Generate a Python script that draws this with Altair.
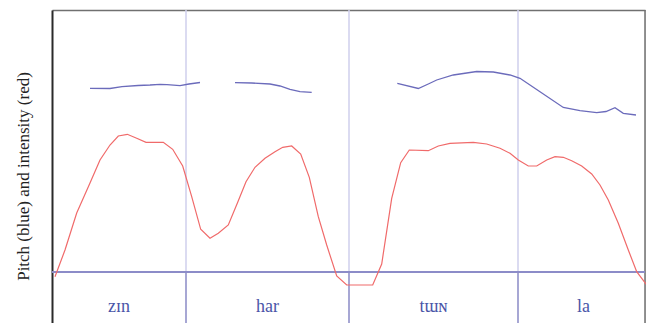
import altair as alt
import pandas as pd

# Intensity contour (red): time position, level
red_t = [3, 13, 24.7, 38, 48, 58, 66.3, 75.3, 84.7, 94, 111.3, 120.7, 130.7, 139.7, 148.7, 158,
         166.3, 176.3, 185.3, 194, 203, 213, 223, 230.7, 239.7, 248.7, 257.3, 266.3, 274.7, 284.7,
         294.7, 320.7, 329.7, 339.7, 348.7, 357.3, 376.3, 386.3, 398, 421.3, 434.7, 448, 458, 466.3,
         476.3, 484.7, 494.7, 503, 511.3, 519.7, 529.7, 539.7, 548, 556.3, 566.3, 576.3, 584.7, 594.7]
red_v = [-4.7, 22, 59, 89, 112, 127, 136, 137.7, 133.7, 129.7, 129.7, 122.7, 106, 75.3, 42.7, 33.7,
         38.7, 47, 68.7, 90.3, 104.7, 113.7, 120.3, 124.7, 126, 118, 94.7, 55.3, 27, -4,
         -13, -13, 8, 73.7, 109.3, 122, 121.3, 126, 128.7, 129.7, 128, 123.7, 118.7, 112,
         106, 106, 112, 115.3, 114.7, 111.3, 106, 98, 87, 72, 48.7, 22, 0.3, -13]

# Pitch contour (blue), three voiced stretches
blue1_t = [38, 58, 70, 86, 98, 108, 115, 128, 137, 148]
blue1_v = [183.7, 183.5, 185.3, 186.5, 187, 187.7, 187.3, 186.3, 188, 189.5]
blue2_t = [183, 199.7, 218, 228, 238, 248, 259.7]
blue2_v = [189.3, 189, 188, 186, 182.7, 180.3, 179.7]
blue3_t = [345.3, 366.3, 376.3, 384.7, 401.3, 424.7, 441.3, 458, 468, 488, 511.3, 528, 544.7, 554, 563, 571.3, 584]
blue3_v = [188.7, 183.5, 188, 192, 197, 200.5, 200, 197, 193.7, 180.3, 164.5, 161.3, 159.3, 160.5, 164.3, 158.7, 157]

# Syllables and their boundaries
syllables = ["zɪn", "har", "tɯɴ", "la"]
bounds = [0, 134, 297, 466, 597]
label_level = -40

T_DOMAIN = [0, 593]
V_DOMAIN = [-51, 262]

red_df = pd.DataFrame({"t": red_t, "v": red_v})
blue_df = pd.concat([
    pd.DataFrame({"t": blue1_t, "v": blue1_v, "seg": 1}),
    pd.DataFrame({"t": blue2_t, "v": blue2_v, "seg": 2}),
    pd.DataFrame({"t": blue3_t, "v": blue3_v, "seg": 3}),
])
inner = bounds[1:-1]
upper_df = pd.DataFrame({"t": inner, "v0": [0] * len(inner), "v1": [V_DOMAIN[1]] * len(inner)})
lower_df = pd.DataFrame({"t": inner, "v0": [V_DOMAIN[0]] * len(inner), "v1": [0] * len(inner)})
base_df = pd.DataFrame({"t": [T_DOMAIN[0]], "t2": [T_DOMAIN[1]], "v": [0]})
right_df = pd.DataFrame({"t": [T_DOMAIN[1]], "v0": [V_DOMAIN[0]], "v1": [V_DOMAIN[1]]})
lab_df = pd.DataFrame({
    "t": [(bounds[i] + bounds[i + 1]) / 2 for i in range(len(syllables))],
    "v": [label_level] * len(syllables),
    "s": syllables,
})

xs = alt.Scale(domain=T_DOMAIN, nice=False, zero=False)
ys = alt.Scale(domain=V_DOMAIN, nice=False, zero=False)
yaxis = alt.Axis(title="Pitch (blue) and intensity (red)", labels=False, ticks=False, grid=False,
                 domainColor="#2a2a2a", domainWidth=2, titleFont="Liberation Serif",
                 titleFontSize=17, titleFontWeight="normal", titleColor="#222222",
                 titlePadding=20, titleY=166)
xaxis = alt.Axis(orient="top", title=None, labels=False, ticks=False, grid=False,
                 domainColor="#707070", domainWidth=1.5)

upper = alt.Chart(upper_df).mark_rule(color="#cfcfec", strokeWidth=1.5).encode(
    x=alt.X("t:Q", scale=xs, axis=xaxis),
    y=alt.Y("v0:Q", scale=ys, axis=yaxis),
    y2="v1:Q",
)
lower = alt.Chart(lower_df).mark_rule(color="#8a8ac6", strokeWidth=1.5).encode(
    x=alt.X("t:Q", scale=xs), y=alt.Y("v0:Q", scale=ys), y2="v1:Q")
right = alt.Chart(right_df).mark_rule(color="#707070", strokeWidth=1.5).encode(
    x=alt.X("t:Q", scale=xs), y=alt.Y("v0:Q", scale=ys), y2="v1:Q")
base = alt.Chart(base_df).mark_rule(color="#8c8cc8", strokeWidth=2).encode(
    x=alt.X("t:Q", scale=xs), x2="t2:Q", y=alt.Y("v:Q", scale=ys))
red = alt.Chart(red_df).mark_line(color="#f06a6a", strokeWidth=1.2).encode(
    x=alt.X("t:Q", scale=xs), y=alt.Y("v:Q", scale=ys), order="t:Q")
blue = alt.Chart(blue_df).mark_line(color="#6b6bbb", strokeWidth=1.3).encode(
    x=alt.X("t:Q", scale=xs), y=alt.Y("v:Q", scale=ys), detail="seg:N", order="t:Q")
labels = alt.Chart(lab_df).mark_text(font="Liberation Serif", fontSize=18, color="#4a55a8",
                                     baseline="alphabetic", align="center").encode(
    x=alt.X("t:Q", scale=xs), y=alt.Y("v:Q", scale=ys), text="s:N")

chart = alt.layer(upper, lower, right, base, red, blue, labels).properties(
    width=593, height=313,
    autosize=alt.AutoSizeParams(type="none"),
    padding={"left": 44, "top": 2, "right": 1, "bottom": 0},
).configure_view(stroke=None).configure(background="white")

chart.save("out.html", embed_options={"renderer": "svg", "actions": False})
